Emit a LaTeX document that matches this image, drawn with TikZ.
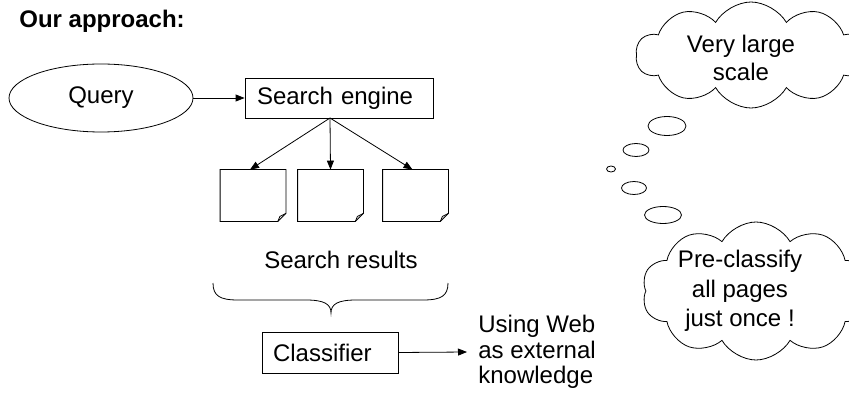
\documentclass[tikz,border=0pt]{standalone}
\usepackage{fontspec}
\setmainfont{Liberation Sans}
\usetikzlibrary{arrows.meta,shapes.geometric,shapes.symbols,calc}
\begin{document}
\begin{tikzpicture}[x=1pt,y=-1pt,
  line width=0.8pt,
  txt/.style={font=\fontsize{24}{28}\selectfont},
  boxnode/.style={draw,rectangle,inner ysep=0pt,align=left,txt},
  arr/.style={-{Triangle[length=9pt,width=7pt]}},
  docbox/.style={rectangle,draw=none,minimum width=65pt,minimum height=51pt,inner sep=0pt},
  bubble/.style={draw,ellipse,inner sep=0pt},
  thought/.style={draw,cloud,cloud puffs=10,cloud puff arc=120,cloud ignores aspect,inner sep=0pt}
]
\useasboundingbox (0,0) rectangle (849,393);
\clip (0,0) rectangle (849,393);

\node[anchor=base west,inner sep=0pt,font=\fontsize{24}{28}\selectfont\bfseries] (title) at (19,28) {Our approach:};

\node[draw,ellipse,minimum width=184pt,minimum height=68pt,inner sep=0pt,txt] (query) at (101,98) {Query};
\node[boxnode,minimum height=40pt,inner xsep=12pt,text width=164pt] (se) at (339,98) {Search engine};
\draw[arr] (query.east) -- (query.east -| se.west);

\coordinate (fork) at (330,118);
\node[docbox] (d1) at (253,195.5) {};
\node[docbox] (d2) at (330.5,195.5) {};
\node[docbox] (d3) at (415.5,195.5) {};
\foreach \d in {d1,d2,d3}{
  \draw (\d.north west) -- (\d.north east) -- ([yshift=8pt]\d.south east) -- ([xshift=-8pt]\d.south east) -- (\d.south west) -- cycle;
  \draw ([xshift=-8pt]\d.south east) -- ([xshift=-6pt,yshift=5pt]\d.south east) -- ([yshift=8pt]\d.south east);
}
\draw[arr] (fork) -- ([xshift=-3pt]d1.north);
\draw[arr] (fork) -- (d2.north);
\draw[arr] (fork) -- ([xshift=-3pt]d3.north);

\node[txt,anchor=base,inner sep=0pt] (sr) at (341,268) {Search results};

\coordinate (bl) at (213,283);
\coordinate (br) at (448,283);
\coordinate (btip) at (331,313);
\draw (bl) .. controls (213,296) and (220,300) .. (238,300) -- (306,300)
  .. controls (324,300) and (331,304) .. (btip)
  .. controls (331,304) and (338,300) .. (356,300) -- (423,300)
  .. controls (441,300) and (448,296) .. (br);

\node[boxnode,minimum height=41pt,inner xsep=11pt,text width=114pt] (cls) at (330,352.5) {Classifier};
\node[align=left,anchor=west,inner xsep=11pt,inner ysep=0pt,font=\fontsize{24}{25.5}\selectfont] (web) at (467,352) {Using Web\\as external\\knowledge};
\draw[arr] (cls.east) -- (web.west);

\node[thought,minimum width=230pt,minimum height=106pt] (c1) at (751,55) {};
\node[txt,align=center,inner sep=0pt] (t1) at (741,58) {Very large\\scale};
\node[thought,minimum width=228pt,minimum height=138pt] (c2) at (756,291) {};
\node[align=center,inner sep=0pt,font=\fontsize{24}{29.5}\selectfont] (t2) at (740,291) {Pre-classify\\all pages\\just once !};

\node[bubble,minimum width=38pt,minimum height=19pt] (b1) at (667,126) {};
\node[bubble,minimum width=26pt,minimum height=13pt] (b2) at (636,150) {};
\node[bubble,minimum width=9pt,minimum height=6pt] (b3) at (611,169) {};
\node[bubble,minimum width=25pt,minimum height=13pt] (b4) at (634,188) {};
\node[bubble,minimum width=37pt,minimum height=17pt] (b5) at (663,215) {};
\end{tikzpicture}
\end{document}
